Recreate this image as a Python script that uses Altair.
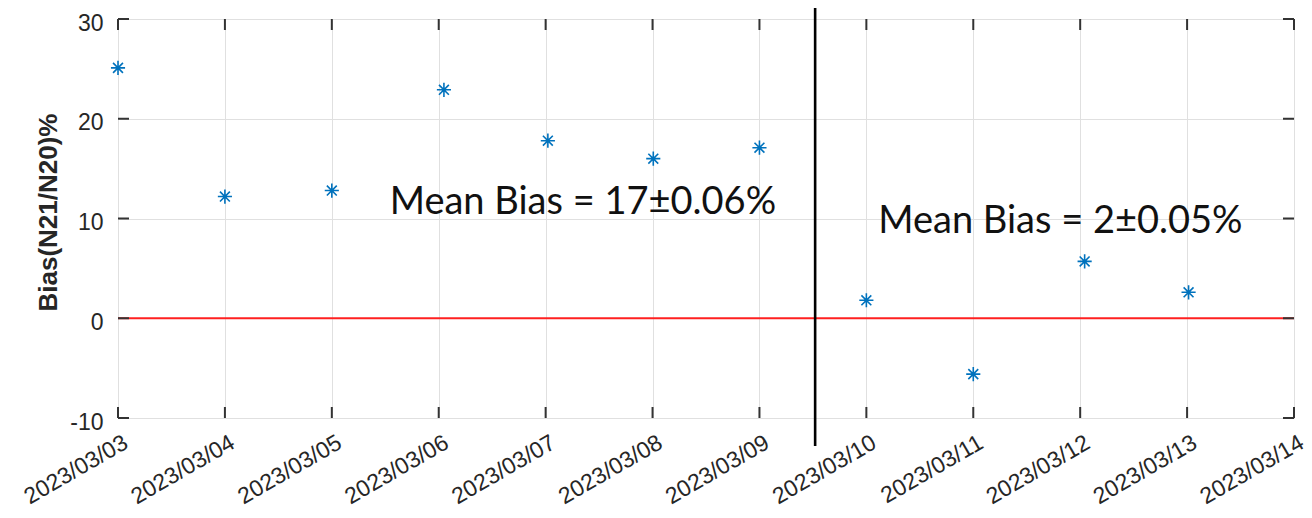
import altair as alt
import pandas as pd

# ---- data ----
dates = ["2023-03-03T00:00:00Z", "2023-03-04T00:00:00Z", "2023-03-05T00:00:00Z",
         "2023-03-06T01:10:00Z", "2023-03-07T00:30:00Z", "2023-03-08T00:10:00Z",
         "2023-03-09T00:00:00Z", "2023-03-10T00:00:00Z", "2023-03-11T00:00:00Z",
         "2023-03-12T01:00:00Z", "2023-03-13T00:20:00Z"]
bias = [25.1, 12.2, 12.8, 22.9, 17.8, 16.0, 17.1, 1.8, -5.6, 5.7, 2.6]

tick_days = [3, 4, 5, 6, 7, 8, 9, 10, 11, 12, 13, 14]
y_ticks = [-10, 0, 10, 20, 30]

split_time = ["2023-03-09T12:30:00Z"]
zero_line = [0]

ann_text = ["Mean Bias = 17\u00b10.06%", "Mean Bias = 2\u00b10.05%"]
ann_x = ["2023-03-05T13:00:00Z", "2023-03-10T02:40:00Z"]
ann_y = [10.5, 8.5]

W, H = 1176, 399

pts = pd.DataFrame({"date": dates, "bias": bias})
ticks_x = pd.DataFrame({"date": [f"2023-03-{d:02d}T00:00:00Z" for d in tick_days]})
ticks_y = pd.DataFrame({"v": y_ticks})
split = pd.DataFrame({"date": split_time})
zero = pd.DataFrame({"v": zero_line})
ann = pd.DataFrame({"date": ann_x, "y": ann_y, "t": ann_text})

x_scale = alt.Scale(type="utc",
                    domain=[alt.DateTime(year=2023, month=3, date=3, utc=True),
                            alt.DateTime(year=2023, month=3, date=14, utc=True)])
y_scale = alt.Scale(domain=[-10, 30], nice=False)

x_axis = alt.Axis(values=[alt.DateTime(year=2023, month=3, date=d, utc=True) for d in tick_days],
                  format="%Y/%m/%d", labelAngle=-30, labelAlign="right", labelBaseline="top",
                  labelFontSize=23, labelFont="Liberation Sans", labelColor="#262626",
                  labelPadding=13, labelOffset=2, ticks=False, domain=False,
                  grid=True, gridColor="#e0e0e0", gridWidth=1, title=None,
                  labelOverlap=False, labelBound=False)
y_axis = alt.Axis(values=y_ticks, labelExpr="'' + datum.value",
                  labelFontSize=23, labelFont="Liberation Sans",
                  labelColor="#262626", labelPadding=15, labelOffset=4,
                  ticks=False, domain=False,
                  grid=True, gridColor="#e0e0e0", gridWidth=1,
                  title="Bias(N21/N20)%", titleFontSize=26, titleFont="Liberation Sans",
                  titleFontWeight="bold", titleColor="#262626",
                  titleX=-70, titleY=193, titleAngle=-90, titleAlign="center",
                  titleBaseline="middle")

asterisk = "M0,-1L0,1M-1,0L1,0M-0.7,-0.7L0.7,0.7M-0.7,0.7L0.7,-0.7"

points = alt.Chart(pts).mark_point(shape=asterisk, filled=False, size=200,
                                   color="#0072BD", strokeWidth=1.6, opacity=1).encode(
    x=alt.X("date:T", scale=x_scale, axis=x_axis),
    y=alt.Y("bias:Q", scale=y_scale, axis=y_axis),
)

zero_rule = alt.Chart(zero).mark_rule(color="#ff2020", strokeWidth=1.8).encode(
    y=alt.Y("v:Q", scale=y_scale)
)

split_rule = alt.Chart(split).mark_rule(color="black", strokeWidth=2.6).encode(
    x=alt.X("date:T", scale=x_scale),
    y=alt.value(-25), y2=alt.value(427)
)

texts = alt.Chart(ann).mark_text(align="left", baseline="alphabetic", font="Lato",
                                 fontSize=38, color="#111111").encode(
    x=alt.X("date:T", scale=x_scale),
    y=alt.Y("y:Q", scale=y_scale),
    text="t:N"
)

tick_style = dict(color="#333333", strokeWidth=2)
xt_bottom = alt.Chart(ticks_x).mark_rule(**tick_style).encode(
    x=alt.X("date:T", scale=x_scale), y=alt.value(H), y2=alt.value(H - 11))
xt_top = alt.Chart(ticks_x).mark_rule(**tick_style).encode(
    x=alt.X("date:T", scale=x_scale), y=alt.value(0), y2=alt.value(11))
yt_left = alt.Chart(ticks_y).mark_rule(**tick_style).encode(
    y=alt.Y("v:Q", scale=y_scale), x=alt.value(0), x2=alt.value(11))
yt_right = alt.Chart(ticks_y).mark_rule(**tick_style).encode(
    y=alt.Y("v:Q", scale=y_scale), x=alt.value(W), x2=alt.value(W - 11))

chart = alt.layer(
    zero_rule, xt_bottom, xt_top, yt_left, yt_right, points, split_rule, texts
).properties(
    width=W, height=H,
    autosize=alt.AutoSizeParams(type="none"),
    padding={"left": 110, "top": 11, "right": 10, "bottom": 92},
).configure_view(
    stroke="#3a3a3a", strokeWidth=2
).configure(background="white")

chart.save("out.html", embed_options={"renderer": "svg", "actions": False})
